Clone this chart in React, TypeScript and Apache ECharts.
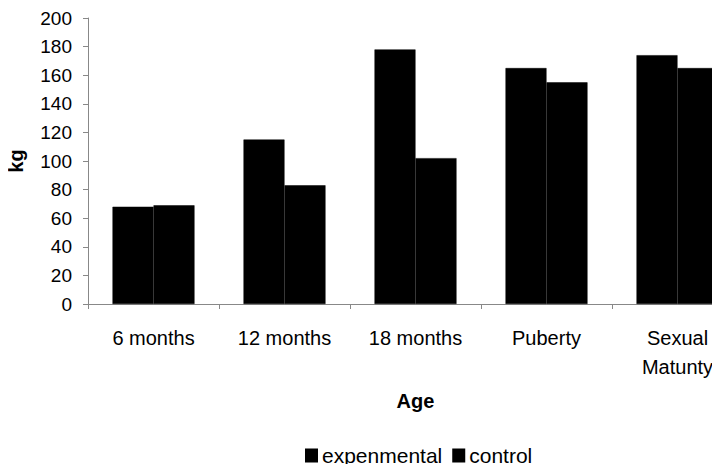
import React, { useEffect, useRef } from "react";
import * as echarts from "echarts";

// Body weight by age stage
const categories = ["6 months", "12 months", "18 months", "Puberty", "Sexual\nMatunty"];
const experimental = [68, 115, 178, 165, 174];
const control = [69, 83, 102, 155, 165];
const seriesNames = ["expenmental", "control"];

const FONT = "'Liberation Sans', Arial, sans-serif";

export default function App() {
  const ref = useRef<HTMLDivElement>(null);

  useEffect(() => {
    if (!ref.current) return;
    const chart = echarts.init(ref.current, null, { renderer: "svg" });
    chart.setOption({
      animation: false,
      backgroundColor: "#ffffff",
      // plot area runs past the right edge of the canvas
      grid: {
        left: 88,
        top: 18,
        bottom: 168,
        width: 655,
        containLabel: false,
        outerBoundsMode: "none",
      },
      legend: {
        left: 300,
        top: 440,
        itemWidth: 11,
        itemHeight: 12,
        itemGap: 10,
        icon: "rect",
        textStyle: { fontFamily: FONT, fontSize: 21, color: "#000" },
        data: seriesNames,
      },
      xAxis: {
        type: "category",
        data: categories,
        name: "Age",
        nameLocation: "middle",
        nameGap: 87,
        nameTextStyle: { fontFamily: FONT, fontSize: 20, fontWeight: "bold", color: "#000" },
        axisLine: { lineStyle: { color: "#888", width: 1 } },
        axisTick: { show: true, length: 5, lineStyle: { color: "#888" } },
        axisLabel: {
          fontFamily: FONT,
          fontSize: 20,
          color: "#000",
          margin: 19,
          lineHeight: 29,
          interval: 0,
        },
      },
      yAxis: {
        type: "value",
        min: 0,
        max: 200,
        interval: 20,
        name: "kg",
        nameLocation: "middle",
        nameRotate: 90,
        nameGap: 62,
        nameTextStyle: { fontFamily: FONT, fontSize: 20, fontWeight: "bold", color: "#000" },
        axisLine: { show: true, lineStyle: { color: "#888", width: 1 } },
        axisTick: { show: true, length: 5, lineStyle: { color: "#888" } },
        splitLine: { show: false },
        axisLabel: { fontFamily: FONT, fontSize: 19, color: "#000", margin: 16 },
      },
      series: [
        {
          name: seriesNames[0],
          type: "bar",
          data: experimental,
          barWidth: 41,
          barGap: "0%",
          itemStyle: { color: "#000", borderColor: "#000", borderWidth: 0.5 },
        },
        {
          name: seriesNames[1],
          type: "bar",
          data: control,
          barWidth: 41,
          barGap: "0%",
          itemStyle: { color: "#000", borderColor: "#000", borderWidth: 0.5 },
        },
      ],
    });
    return () => chart.dispose();
  }, []);

  return <div ref={ref} style={{ width: 720, height: 472, margin: -8 }} />;
}
